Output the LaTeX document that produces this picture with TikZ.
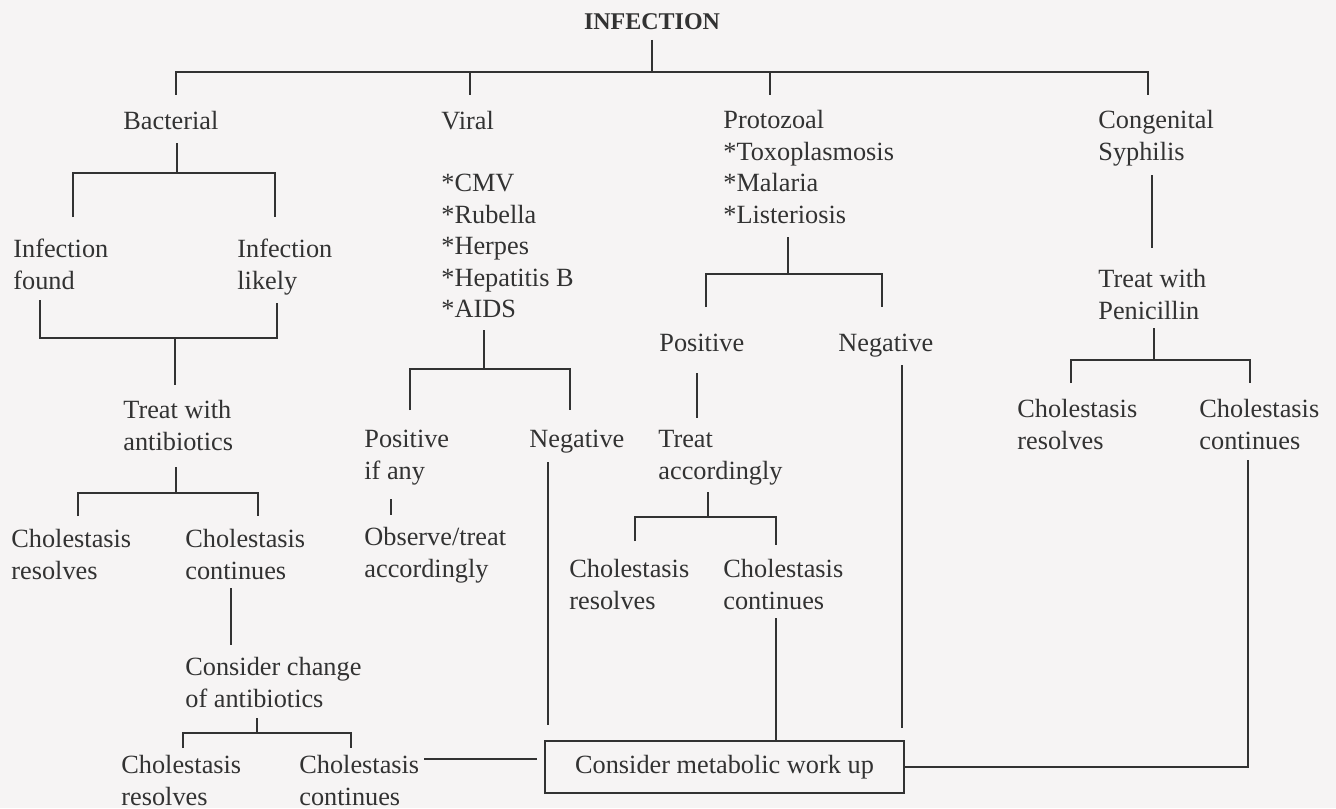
\documentclass[tikz,border=0pt]{standalone}
\usepackage{fontspec}
\setmainfont{Liberation Serif}
\usetikzlibrary{positioning}

\definecolor{ink}{RGB}{50,50,50}
\definecolor{paper}{RGB}{246,244,244}

\tikzset{
  txt/.style={inner sep=0pt, anchor=north west, align=left, text=ink,
    font=\fontsize{13.15}{15.75}\selectfont},
  link/.style={draw=ink, line width=1pt},
}

\begin{document}
\begin{tikzpicture}[x=0.5pt, y=-0.5pt]

    % Page
    \fill[paper] (0,0) rectangle (1336,808);
    \useasboundingbox (0,0) rectangle (1336,808);

    % Title
    \node[anchor=base, inner sep=0pt, text=ink, font=\fontsize{12}{14}\selectfont\bfseries] (inf) at (652,30) {INFECTION};

    % Kinds of infection
    \node[txt] (bac) at (123,111) {Bacterial};
    \node[txt] (vir) at (441,111) {Viral};
    \node[txt] (pro) at (723,110) {Protozoal\\*Toxoplasmosis\\*Malaria\\*Listeriosis};
    \node[txt] (con) at (1098,110) {Congenital\\Syphilis};
    \node[txt] (vlist) at (441,174) {*CMV\\*Rubella\\*Herpes\\*Hepatitis B\\*AIDS};

    % Bacterial
    \node[txt] (found) at (13,239) {Infection\\found};
    \node[txt] (likely) at (237,239) {Infection\\likely};
    \node[txt] (tab) at (123,400) {Treat with\\antibiotics};
    \node[txt] (cr1) at (11,529) {Cholestasis\\resolves};
    \node[txt] (cc1) at (185,529) {Cholestasis\\continues};
    \node[txt] (chg) at (185,657) {Consider change\\of antibiotics};
    \node[txt] (cr2) at (121,755) {Cholestasis\\resolves};
    \node[txt] (cc2) at (299,755) {Cholestasis\\continues};

    % Viral
    \node[txt] (vpos) at (364,430) {Positive\\if any};
    \node[txt] (vneg) at (529,430) {Negative};
    \node[txt] (obs) at (364,527) {Observe/treat\\accordingly};

    % Protozoal
    \node[txt] (ppos) at (659,334) {Positive};
    \node[txt] (pneg) at (838,334) {Negative};
    \node[txt] (tacc) at (658,430) {Treat\\accordingly};
    \node[txt] (cr3) at (569,559) {Cholestasis\\resolves};
    \node[txt] (cc3) at (723,559) {Cholestasis\\continues};

    % Congenital syphilis
    \node[txt] (twp) at (1098,269) {Treat with\\Penicillin};
    \node[txt] (cr4) at (1017,399) {Cholestasis\\resolves};
    \node[txt] (cc4) at (1199,399) {Cholestasis\\continues};

    % End point
    \node[draw=ink, line width=1pt, inner sep=0pt, minimum width=179.5pt, minimum height=26pt,
      text=ink, font=\fontsize{13.15}{15.75}\selectfont] (box) at (724.5,767) {Consider metabolic work up};

    % Top fork
    \draw[link] (inf.south |- 0,40) -- (inf.south |- 0,72);
    \draw[link] (176,95) -- (176,72) -- (1148,72) -- (1148,95);
    \draw[link] (470,72) -- (470,95);
    \draw[link] (770,72) -- (770,95);

    % Bacterial branch
    \draw[link] (177,143) -- (177,173);
    \draw[link] (73,217) -- (73,173) -- (275,173) -- (275,217);
    \draw[link] (40,300) -- (40,338) -- (277,338) -- (277,303);
    \draw[link] (175,338) -- (175,385);
    \draw[link] (176,467) -- (176,493);
    \draw[link] (78,516) -- (78,493) -- (258,493) -- (258,516);
    \draw[link] (231,588) -- (231,645);
    \draw[link] (257,718) -- (257,733);
    \draw[link] (183,748) -- (183,733) -- (351,733) -- (351,748);
    \draw[link] (424,759) -- (537,759);

    % Viral branch
    \draw[link] (484,330) -- (484,369);
    \draw[link] (410,410) -- (410,369) -- (570,369) -- (570,410);
    \draw[link] (391,499) -- (391,515);
    \draw[link] (548,462) -- (548,725);

    % Protozoal branch
    \draw[link] (788,237) -- (788,274);
    \draw[link] (706,307) -- (706,274) -- (882,274) -- (882,307);
    \draw[link] (697,373) -- (697,418);
    \draw[link] (708,492) -- (708,517);
    \draw[link] (635,541) -- (635,517) -- (776,517) -- (776,545);
    \draw[link] (776,618) -- (box.north -| 776,0);
    \draw[link] (902,365) -- (902,728);

    % Congenital branch
    \draw[link] (1152,175) -- (1152,248);
    \draw[link] (1154,328) -- (1154,360);
    \draw[link] (1071,383) -- (1071,360) -- (1250,360) -- (1250,383);
    \draw[link] (box.east) -| (1248,460);

\end{tikzpicture}
\end{document}
